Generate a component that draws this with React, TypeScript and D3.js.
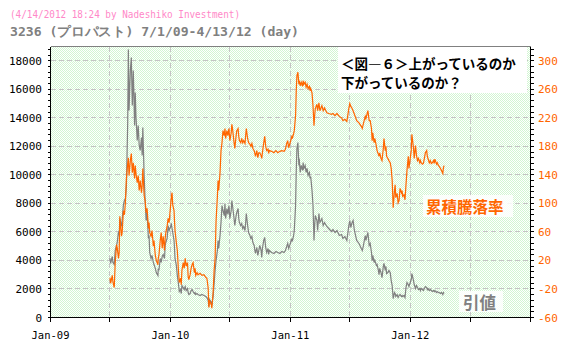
import React from "react";
import * as d3 from "d3";

// ---- data ----
const dates = [
  "2009-07-01","2009-07-03","2009-07-08","2009-07-10","2009-07-14","2009-07-17","2009-07-21","2009-07-23","2009-07-27","2009-07-29",
  "2009-07-31","2009-08-05","2009-08-07","2009-08-11","2009-08-14","2009-08-17","2009-08-20","2009-08-24","2009-08-26","2009-08-28",
  "2009-09-01","2009-09-04","2009-09-07","2009-09-10","2009-09-14","2009-09-16","2009-09-18","2009-09-22","2009-09-25","2009-09-28",
  "2009-10-01","2009-10-05","2009-10-07","2009-10-09","2009-10-13","2009-10-16","2009-10-19","2009-10-22","2009-10-26","2009-10-28",
  "2009-10-30","2009-11-03","2009-11-06","2009-11-10","2009-11-12","2009-11-16","2009-11-19","2009-11-24","2009-11-25","2009-11-27",
  "2009-12-01","2009-12-04","2009-12-07","2009-12-10","2009-12-14","2009-12-16","2009-12-18","2009-12-22","2009-12-25","2009-12-28",
  "2010-01-04","2010-01-06","2010-01-08","2010-01-12","2010-01-13","2010-01-15","2010-01-19","2010-01-22","2010-01-25","2010-01-28",
  "2010-02-01","2010-02-03","2010-02-05","2010-02-09","2010-02-12","2010-02-15","2010-02-18","2010-02-22","2010-02-24","2010-02-26",
  "2010-03-02","2010-03-05","2010-03-08","2010-03-11","2010-03-15","2010-03-17","2010-03-19","2010-03-23","2010-03-26","2010-04-01",
  "2010-04-07","2010-04-13","2010-04-19","2010-04-22","2010-04-26","2010-04-28","2010-04-30","2010-05-06","2010-05-07","2010-05-11",
  "2010-05-14","2010-05-17","2010-05-20","2010-05-24","2010-05-26","2010-05-28","2010-06-01","2010-06-04","2010-06-07","2010-06-10",
  "2010-06-14","2010-06-16","2010-06-18","2010-06-22","2010-06-25","2010-06-28","2010-07-01","2010-07-05","2010-07-07","2010-07-09",
  "2010-07-13","2010-07-16","2010-07-20","2010-07-22","2010-07-26","2010-07-28","2010-07-30","2010-08-03","2010-08-06","2010-08-09",
  "2010-08-12","2010-08-16","2010-08-18","2010-08-20","2010-08-24","2010-08-27","2010-08-31","2010-09-03","2010-09-06","2010-09-09",
  "2010-09-13","2010-09-15","2010-09-17","2010-09-21","2010-09-24","2010-09-27","2010-09-30","2010-10-04","2010-10-06","2010-10-08",
  "2010-10-12","2010-10-15","2010-10-18","2010-10-21","2010-10-25","2010-10-27","2010-10-29","2010-11-05","2010-11-12","2010-11-18",
  "2010-11-24","2010-11-30","2010-12-06","2010-12-13","2010-12-17","2010-12-21","2010-12-24","2010-12-27","2011-01-04","2011-01-06",
  "2011-01-07","2011-01-11","2011-01-13","2011-01-17","2011-01-19","2011-01-21","2011-01-24","2011-01-27","2011-01-28","2011-01-31",
  "2011-02-03","2011-02-07","2011-02-09","2011-02-11","2011-02-15","2011-02-18","2011-02-21","2011-02-24","2011-02-28","2011-03-02",
  "2011-03-04","2011-03-08","2011-03-11","2011-03-14","2011-03-16","2011-03-18","2011-03-23","2011-03-25","2011-03-29","2011-04-01",
  "2011-04-07","2011-04-11","2011-04-15","2011-04-22","2011-04-28","2011-05-06","2011-05-11","2011-05-17","2011-05-23","2011-05-30",
  "2011-06-06","2011-06-10","2011-06-16","2011-06-22","2011-06-28","2011-07-01","2011-07-04","2011-07-07","2011-07-11","2011-07-15",
  "2011-07-22","2011-07-29","2011-08-05","2011-08-08","2011-08-11","2011-08-17","2011-08-19","2011-08-25","2011-08-29","2011-09-01",
  "2011-09-05","2011-09-07","2011-09-09","2011-09-13","2011-09-15","2011-09-20","2011-09-22","2011-09-26","2011-09-28","2011-09-30",
  "2011-10-04","2011-10-07","2011-10-11","2011-10-13","2011-10-17","2011-10-19","2011-10-21","2011-10-25","2011-10-28","2011-11-01",
  "2011-11-04","2011-11-07","2011-11-10","2011-11-14","2011-11-16","2011-11-18","2011-11-22","2011-11-25","2011-11-28","2011-12-01",
  "2011-12-05","2011-12-07","2011-12-09","2011-12-13","2011-12-16","2011-12-19","2011-12-22","2011-12-26","2011-12-28","2012-01-04",
  "2012-01-05","2012-01-06","2012-01-11","2012-01-13","2012-01-17","2012-01-20","2012-01-23","2012-01-26","2012-01-30","2012-02-01",
  "2012-02-03","2012-02-07","2012-02-10","2012-02-13","2012-02-16","2012-02-20","2012-02-22","2012-02-24","2012-02-28","2012-03-02",
  "2012-03-05","2012-03-08","2012-03-12","2012-03-14","2012-03-16","2012-03-21","2012-03-23","2012-03-27","2012-03-29","2012-04-02",
  "2012-04-05","2012-04-09","2012-04-11","2012-04-13"
];

// 引値 (closing price, left axis)
const price = [
  4140,3790,4280,3860,3720,4700,5050,5260,6030,5750,
  6940,6380,6800,7920,8200,8340,9180,13670,18790,14510,
  17320,18230,14860,17320,13460,15770,14160,12410,13460,12060,
  11710,12620,11360,13320,9960,8200,6800,7360,5540,5750,
  4560,4140,4350,3860,3720,3440,3150,2940,3440,3300,
  4140,3860,4280,4420,4140,5050,5260,5540,6450,6100,
  6520,6240,5960,5400,5050,4140,3650,2940,2450,1820,
  1960,1680,2240,2100,1960,2170,1890,2030,1750,1610,
  1680,1890,1960,1820,1680,1750,1610,1680,1610,1540,
  1610,1540,1470,1400,1190,770,1260,1050,840,1470,
  2380,3300,4000,4700,5400,4840,5750,6660,7850,7500,
  7150,7990,6940,7640,7220,7850,6940,7500,8200,7850,
  7080,6450,7150,7360,7640,6940,6660,6450,6590,6240,
  6380,6100,6660,7290,6450,5960,5750,5540,5680,5260,
  5050,4700,4490,4910,4350,4700,5050,4700,4210,4840,
  5400,5610,4910,4560,4840,4420,4700,4560,4490,4630,
  4560,4490,4630,4560,4700,4980,5190,4840,5400,5540,
  5330,5750,6100,7850,10310,11850,12270,10660,11150,10170,
  10660,10310,10870,10450,10660,10170,10450,9960,10170,9750,
  9890,8900,7850,5400,6450,7150,6800,6100,7290,6660,
  6940,6450,6660,6380,6240,6030,6170,5960,6100,5750,
  5820,5540,5680,5400,6450,6800,6310,6590,6800,6100,
  5400,5190,4840,4700,4980,5750,5400,5960,5050,5190,
  4560,4000,4350,3860,4000,3650,3720,3300,3010,3440,
  3150,2800,3580,3790,3300,3580,3080,3150,3300,3150,
  2590,2240,1330,1750,1680,1470,1610,1400,1540,1610,
  1470,1540,1470,1540,1400,2100,2450,2310,2170,2660,
  2870,3080,2590,2310,2030,2240,2100,1960,2030,1890,
  2030,1960,1890,2030,2170,2100,1960,2030,1890,1960,
  1890,1820,1890,1820,1890,1750,1820,1750,1750,1680,
  1750,1610,1750,1680
];

// 累積騰落率 (cumulative return %, right axis)
const cumReturn = [
  -4,-12,-1,-10,-18,17,42,38,23,31,
  82,54,59,90,84,101,135,156,164,139,
  160,170,143,157,135,153,143,129,139,118,
  132,115,125,149,111,104,87,93,65,73,
  59,54,62,40,48,27,20,14,23,27,
  48,59,37,54,34,51,59,68,79,73,
  110,115,98,90,79,62,45,34,9,-11,
  -5,-14,6,17,9,23,12,17,-3,-7,
  0,9,14,17,3,9,-1,3,0,2,
  -1,0,-4,-5,-19,-46,-36,-43,-47,-25,
  6,23,76,110,132,118,143,174,185,202,
  195,205,191,202,195,205,188,199,211,205,
  188,177,195,202,205,194,188,185,191,185,
  188,184,195,205,191,185,183,180,184,177,
  174,170,166,174,164,171,171,167,163,171,
  185,194,180,174,176,170,174,173,171,174,
  171,173,174,173,176,184,188,178,191,195,
  191,198,202,223,258,279,284,267,272,265,
  270,264,272,267,270,263,267,261,264,258,
  261,255,237,209,223,233,239,230,241,230,
  237,230,234,227,226,225,226,223,226,222,
  220,216,218,215,233,240,236,234,230,225,
  216,213,208,205,211,222,219,230,216,216,
  205,188,199,185,191,180,174,169,166,171,
  163,160,177,191,174,180,166,163,160,157,
  149,132,94,118,126,108,114,101,104,121,
  115,118,110,112,105,126,146,166,149,174,
  188,197,177,163,181,167,160,163,157,160,
  157,155,156,163,171,174,166,163,157,160,
  156,157,160,156,162,155,157,153,152,149,
  146,142,150,153
];

const leftTicks = [0, 2000, 4000, 6000, 8000, 10000, 12000, 14000, 16000, 18000];
const rightTicks = [-60, -20, 20, 60, 100, 140, 180, 220, 260, 300];
const xLabelTicks = [
  { date: "2009-01-01", label: "Jan-09" },
  { date: "2010-01-01", label: "Jan-10" },
  { date: "2011-01-01", label: "Jan-11" },
  { date: "2012-01-01", label: "Jan-12" },
];
const xGridDates = ["2009-07-01", "2010-01-01", "2010-07-01", "2011-01-01", "2011-07-01", "2012-01-01", "2012-07-01"];
const xTickDates = ["2009-01-01", ...xGridDates, "2013-01-01"];

const titleLine1 = "(4/14/2012 18:24 by Nadeshiko Investment)";
const titleLine2 = "3236 (プロパスト) 7/1/09-4/13/12 (day)";
const noteLine1 = "＜図―６＞上がっているのか";
const noteLine2 = "下がっているのか？";
const seriesReturnName = "累積騰落率";
const seriesPriceName = "引値";

export default function App() {
  const W = 566, H = 349;
  const L = 50.5, R = 530.5, T = 46.5, B = 317.5;
  const parse = d3.timeParse("%Y-%m-%d");
  const x = d3.scaleTime()
    .domain([parse("2009-01-01") as Date, parse("2013-01-01") as Date])
    .range([L, R]);
  const yL = d3.scaleLinear().domain([0, 19000]).range([B, T]);
  const yR = d3.scaleLinear().domain([-60, 320]).range([B, T]);

  const pts = dates.map((d, i) => ({ d: parse(d) as Date, p: price[i], r: cumReturn[i] }));
  const priceLine = d3.line<any>().x((p) => x(p.d)).y((p) => yL(p.p));
  const retLine = d3.line<any>().x((p) => x(p.d)).y((p) => yR(p.r));

  const leftMinor = d3.range(0, 19000, 400);
  const rightMinor = d3.range(-60, 321, 8);
  const snap = (v: number) => Math.round(v - 0.5) + 0.5;

  const orange = "#ff6600";
  const grey = "#808080";
  const mono = "'DejaVu Sans Mono', monospace";
  const cjk = "'Noto Sans CJK JP', sans-serif";

  return (
    <svg width={W} height={H} style={{ position: "absolute", left: 0, top: 0, background: "#fff" }}>
      <defs>
        <pattern id="dots" width="2" height="2" patternUnits="userSpaceOnUse">
          <rect width="2" height="2" fill="#ffffff" />
          <rect x="0" y="0" width="1" height="1" fill="#d2f6d2" />
          <rect x="1" y="1" width="1" height="1" fill="#d2f6d2" />
        </pattern>
      </defs>
      <rect x={0} y={0} width={W} height={H} fill="#fff" />

      {/* titles */}
      <text x={10} y={18} fontFamily={mono} fontSize={10.5} fill="#ff88c8" textLength={230} lengthAdjust="spacingAndGlyphs">
        {titleLine1}
      </text>
      <text x={10} y={36} fontFamily={mono} fontSize={12.5} fontWeight="bold" fill={grey} textLength={289} lengthAdjust="spacingAndGlyphs">
        {titleLine2}
      </text>

      {/* plot background */}
      <rect x={L} y={T} width={R - L} height={B - T} fill="url(#dots)" />

      {/* grid */}
      <g stroke="#c4c4c4" strokeDasharray="5,3" shapeRendering="crispEdges" strokeWidth={1}>
        {leftTicks.filter((t) => t > 0).map((t) => (
          <line key={"h" + t} x1={L} x2={R} y1={snap(yL(t))} y2={snap(yL(t))} />
        ))}
        {xGridDates.map((d) => (
          <line key={"v" + d} x1={snap(x(parse(d) as Date))} x2={snap(x(parse(d) as Date))} y1={T} y2={B} />
        ))}
      </g>

      {/* annotation box */}
      <rect x={338} y={47} width={189} height={46} fill="#fff" />
      <text x={341} y={69} fontFamily={cjk} fontWeight="bold" fontSize={13.5} fill="#000">{noteLine1}</text>
      <text x={341} y={88} fontFamily={cjk} fontWeight="bold" fontSize={13.5} fill="#000">{noteLine2}</text>

      {/* series */}
      <path d={priceLine(pts) as string} fill="none" stroke={grey} strokeWidth={1.2} />
      <path d={retLine(pts) as string} fill="none" stroke={orange} strokeWidth={1.2} />

      {/* series labels */}
      <rect x={423} y={195} width={90} height={22} fill="#fff" opacity={0.85} />
      <text x={426} y={213} fontFamily={cjk} fontWeight="bold" fontSize={15.5} fill={orange}>{seriesReturnName}</text>
      <rect x={459} y={291} width={44} height={21} fill="#fff" opacity={0.85} />
      <text x={463} y={309} fontFamily={cjk} fontWeight="bold" fontSize={16.5} fill={grey}>{seriesPriceName}</text>

      {/* axes frame */}
      <g shapeRendering="crispEdges">
        <line x1={L} x2={R} y1={T} y2={T} stroke={grey} />
        <line x1={L} x2={L} y1={T} y2={B} stroke="#000" />
        <line x1={R} x2={R} y1={T} y2={B} stroke="#000" />
        <line x1={L} x2={R} y1={B} y2={B} stroke="#000" />
        {leftMinor.map((t) => (
          <line key={"lm" + t} x1={L - 3} x2={L} y1={snap(yL(t))} y2={snap(yL(t))} stroke="#000" />
        ))}
        {rightMinor.map((t) => (
          <line key={"rm" + t} x1={R} x2={R + 3} y1={snap(yR(t))} y2={snap(yR(t))} stroke="#000" />
        ))}
        {xTickDates.map((d) => (
          <line key={"xt" + d} x1={snap(x(parse(d) as Date))} x2={snap(x(parse(d) as Date))} y1={B} y2={B + 4} stroke="#000" />
        ))}
      </g>

      {/* tick labels */}
      {leftTicks.map((t) => (
        <text key={"ll" + t} x={42} y={yL(t) + 4} textAnchor="end" fontFamily={mono} fontSize={11} fill="#000">
          {t}
        </text>
      ))}
      {rightTicks.map((t) => (
        <text key={"rl" + t} x={538} y={yR(t) + 4} textAnchor="start" fontFamily={mono} fontSize={11} fill={orange}>
          {t}
        </text>
      ))}
      {xLabelTicks.map((t) => (
        <text key={"xl" + t.label} x={x(parse(t.date) as Date)} y={339} textAnchor="middle" fontFamily={mono} fontSize={10.5} fill="#000">
          {t.label}
        </text>
      ))}
    </svg>
  );
}
